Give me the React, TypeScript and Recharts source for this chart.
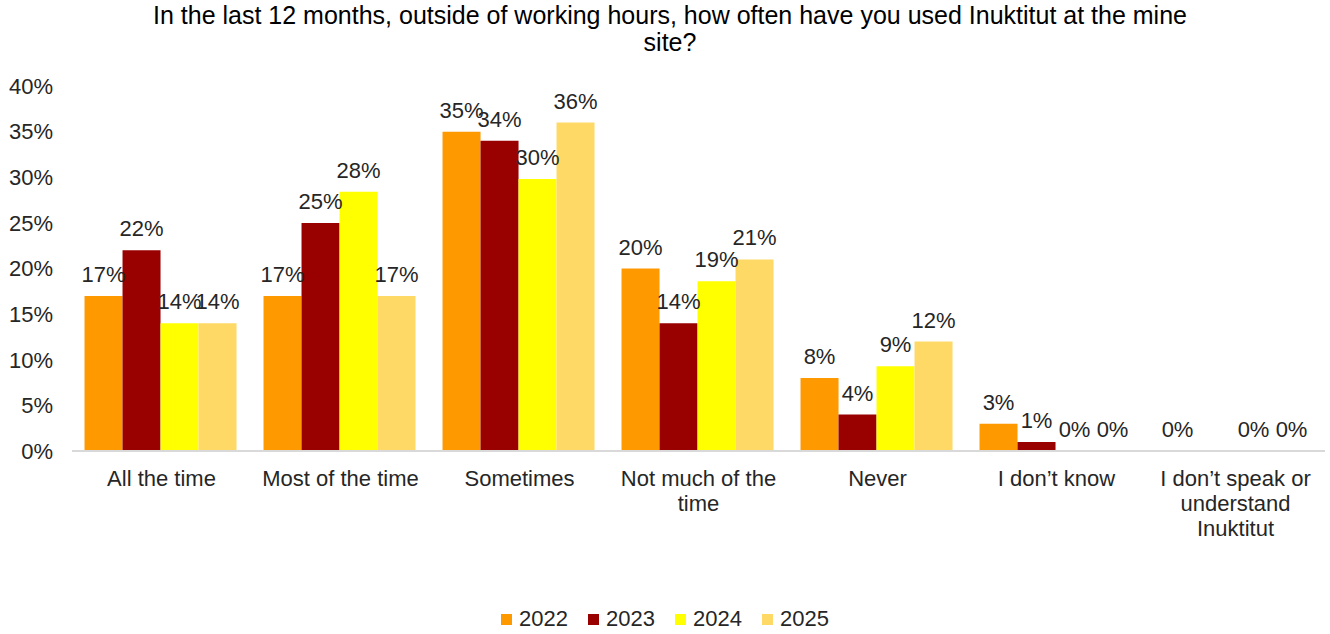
import { BarChart, Bar, XAxis, YAxis, LabelList } from 'recharts';

const categories = [
    'All the time',
    'Most of the time',
    'Sometimes',
    'Not much of the time',
    'Never',
    'I don\u2019t know',
    'I don\u2019t speak or understand Inuktitut',
];

// values in percent
const y2022 = [17, 17, 35, 20, 8, 3, 0];
const y2023 = [22, 25, 34, 14, 4, 1, null];
const y2024 = [14, 28.4, 29.8, 18.6, 9.3, 0, 0];
const y2025 = [14, 17, 36, 21, 12, 0, 0];

const yTicks = [0, 5, 10, 15, 20, 25, 30, 35, 40];

const SERIES = [
    { key: 'y2022', name: '2022', color: '#FF9900' },
    { key: 'y2023', name: '2023', color: '#990000' },
    { key: 'y2024', name: '2024', color: '#FFFF00' },
    { key: 'y2025', name: '2025', color: '#FFD966' },
];

const data = categories.map((c, i) => ({
    category: c,
    y2022: y2022[i],
    y2023: y2023[i],
    y2024: y2024[i],
    y2025: y2025[i],
}));

const FONT = '"Liberation Sans", Arial, sans-serif';
const TEXT = '#262626';
const FS = 22;

// simple word wrap measured on a canvas with the same font
let ctx: CanvasRenderingContext2D | null = null;
function wrapWords(text: string, maxWidth: number) {
    if (!ctx) {
        ctx = document.createElement('canvas').getContext('2d');
        if (ctx) ctx.font = `${FS}px ${FONT}`;
    }
    const words = text.split(' ');
    const lines: string[] = [];
    let cur = '';
    for (const w of words) {
        const test = cur ? `${cur} ${w}` : w;
        const width = ctx ? ctx.measureText(test).width : test.length * FS * 0.5;
        if (width > maxWidth && cur) {
            lines.push(cur);
            cur = w;
        } else {
            cur = test;
        }
    }
    if (cur) lines.push(cur);
    return lines;
}

function CategoryTick(props: any) {
    const { x, y, payload } = props;
    const lines = wrapWords(payload.value, 180);
    return (
        <text x={x} y={y} textAnchor="middle" fontSize={FS} fontFamily={FONT} fill={TEXT}>
            {lines.map((l, i) => (
                <tspan key={i} x={x} dy={i === 0 ? 16 : 25}>
                    {l}
                </tspan>
            ))}
        </text>
    );
}

function YearLegend() {
    return (
        <div
            style={{
                position: 'absolute',
                top: 606,
                left: 0,
                width: 1330,
                display: 'flex',
                justifyContent: 'center',
                gap: 20,
                fontFamily: FONT,
                fontSize: FS,
                color: TEXT,
            }}
        >
            {SERIES.map((s) => (
                <div key={s.key} style={{ display: 'flex', alignItems: 'center' }}>
                    <span style={{ width: 11, height: 11, background: s.color, marginRight: 7, display: 'inline-block' }} />
                    {s.name}
                </div>
            ))}
        </div>
    );
}

export default function App() {
    return (
        <div style={{ position: 'absolute', left: 0, top: 0, width: 1330, height: 634, background: '#fff', fontFamily: FONT }}>
            <div
                style={{
                    position: 'absolute',
                    top: 2,
                    left: (1330 - 1060) / 2 + 5,
                    width: 1060,
                    textAlign: 'center',
                    fontSize: 25,
                    lineHeight: '27px',
                    color: '#000',
                }}
            >
                In the last 12 months, outside of working hours, how often have you used Inuktitut at the mine site?
            </div>
            <BarChart
                width={1330}
                height={634}
                data={data}
                margin={{ top: 86, right: 5, left: 0, bottom: 153 }}
                barCategoryGap="7%"
                barGap={0}
            >
                <XAxis
                    dataKey="category"
                    height={30}
                    interval={0}
                    tickLine={false}
                    tickSize={0}
                    tickMargin={19}
                    axisLine={{ stroke: '#D9D9D9', strokeWidth: 2 }}
                    tick={<CategoryTick />}
                />
                <YAxis
                    width={72}
                    domain={[0, 40]}
                    ticks={yTicks}
                    axisLine={false}
                    tickLine={false}
                    tickSize={0}
                    tickMargin={19}
                    tickFormatter={(v) => `${v}%`}
                    tick={{ fontSize: FS, fill: TEXT, fontFamily: FONT }}
                />
                {SERIES.map((s) => (
                    <Bar
                        key={s.key}
                        dataKey={s.key}
                        name={s.name}
                        fill={s.color}
                        isAnimationActive={false}
                        minPointSize={(v: any) => (v === 0 ? 0.01 : 0)}
                    >
                        <LabelList
                            dataKey={s.key}
                            position="top"
                            offset={14}
                            fontSize={FS}
                            fontFamily={FONT}
                            fill={TEXT}
                            formatter={(v: any) => (v === null || v === undefined ? '' : `${Math.round(v)}%`)}
                        />
                    </Bar>
                ))}
            </BarChart>
            <YearLegend />
        </div>
    );
}
